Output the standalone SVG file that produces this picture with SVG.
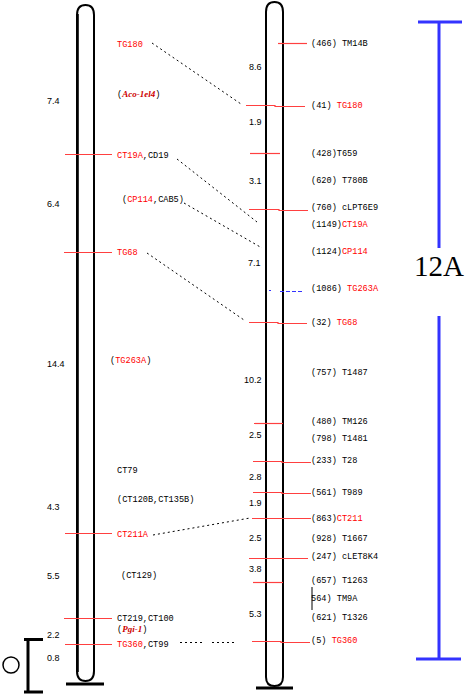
<svg xmlns="http://www.w3.org/2000/svg" width="465" height="694" viewBox="0 0 465 694">
<style>
.lbl{font-family:"Liberation Mono",monospace;font-size:8.6px;fill:#000}
.red{fill:#f00}
.num{font-family:"Liberation Sans",Arial,sans-serif;font-size:9px;fill:#000}
.gene{font-family:"Liberation Serif",serif;font-size:9px;font-style:italic;font-weight:bold;fill:#c00}
.mk{stroke:#ff4040;stroke-width:1.2;fill:none}
.chr{fill:none;stroke:#000;stroke-width:2}
.dash{stroke:#000;stroke-width:1;stroke-dasharray:2,3;fill:none}
.blue{stroke:#3333ff;fill:none}
</style>
<rect width="465" height="694" fill="#fff"/>
<g id="chromosome-left">
<path class="chr" d="M77,15 Q77,5 85.5,5 Q94,5 94,15 V671 Q94,681 85.5,681 Q77,681 77,671 Z" stroke-width="1.6"/>
<line x1="77.5" y1="14" x2="77.5" y2="672" stroke="#000" stroke-width="2.6"/>
<line x1="66" y1="684" x2="104" y2="684" stroke="#000" stroke-width="3"/>
</g>
<g id="chromosome-right">
<path class="chr" d="M266,12 Q266,2 274.5,2 Q283,2 283,12 V677 Q283,686 274.5,686 Q266,686 266,677 Z"/>
<line x1="256" y1="688" x2="293" y2="688" stroke="#000" stroke-width="3"/>
</g>
<g id="left-markers">
<line class="mk" x1="65" y1="154.5" x2="112" y2="154.5"/>
<line class="mk" x1="64" y1="252.5" x2="112" y2="252.5"/>
<line class="mk" x1="65" y1="533.5" x2="112" y2="533.5"/>
<line class="mk" x1="64" y1="618.5" x2="112" y2="618.5"/>
<line class="mk" x1="65" y1="644.5" x2="112" y2="644.5"/>
</g>
<g id="left-labels">
<text class="lbl red" x="117" y="47">TG180</text>
<text class="lbl" x="117" y="97">(<tspan class="gene">Aco-1el4</tspan>)</text>
<text class="num" x="47" y="104">7.4</text>
<text class="lbl" x="117" y="158"><tspan class="red">CT19A</tspan>,CD19</text>
<text class="num" x="47" y="207">6.4</text>
<text class="lbl" x="122" y="202">(<tspan class="red">CP114</tspan>,CAB5)</text>
<text class="lbl red" x="117" y="255">TG68</text>
<text class="lbl" x="110" y="363">(<tspan class="red">TG263A</tspan>)</text>
<text class="num" x="47" y="367">14.4</text>
<text class="lbl" x="117" y="473">CT79</text>
<text class="lbl" x="117" y="502">(CT120B,CT135B)</text>
<text class="num" x="47" y="510">4.3</text>
<text class="lbl red" x="117" y="537">CT211A</text>
<text class="num" x="47" y="579">5.5</text>
<text class="lbl" x="121" y="578">(CT129)</text>
<text class="lbl" x="117" y="621">CT219,CT100</text>
<text class="lbl" x="117" y="632">(<tspan class="gene">Pgi-1</tspan>)</text>
<text class="num" x="47" y="638">2.2</text>
<text class="lbl" x="117" y="647"><tspan class="red">TG360</tspan>,CT99</text>
<text class="num" x="47" y="661">0.8</text>
</g>
<g id="scale-left">
<line x1="28" y1="639" x2="28" y2="692" stroke="#000" stroke-width="3"/>
<line x1="24" y1="639.5" x2="43" y2="639.5" stroke="#000" stroke-width="3"/>
<line x1="24" y1="692" x2="43" y2="692" stroke="#000" stroke-width="3"/>
<circle cx="11" cy="665" r="8" fill="none" stroke="#000" stroke-width="1.5"/>
</g>
<g id="right-markers">
<line class="mk" x1="278" y1="43.5" x2="307" y2="43.5"/>
<polyline class="mk" points="246,105.5 275,105.5 275,106.5 305,106.5"/>
<line class="mk" x1="250" y1="153.5" x2="280" y2="153.5"/>
<polyline class="mk" points="249,209.5 279,209.5 279,210.5 308,210.5"/>
<polyline class="mk" points="249,322.5 278,322.5 278,323.5 307,323.5"/>
<line class="mk" x1="254" y1="423.5" x2="283" y2="423.5"/>
<polyline class="mk" points="253,461.5 282,461.5 282,462.5 311,462.5"/>
<polyline class="mk" points="253,492.5 282,492.5 282,493.5 311,493.5"/>
<line class="mk" x1="252" y1="518.5" x2="311" y2="518.5"/>
<line class="mk" x1="249" y1="558.5" x2="308" y2="558.5"/>
<line class="mk" x1="253" y1="582.5" x2="283" y2="582.5"/>
<polyline class="mk" points="252,641.5 281,641.5 281,642.5 310,642.5"/>
<line x1="312" y1="587" x2="312" y2="610" stroke="#000" stroke-width="1"/>
</g>
<g id="right-labels">
<text class="lbl" x="311" y="46">(466) TM14B</text>
<text class="num" x="249" y="70">8.6</text>
<text class="lbl" x="311" y="108">(41) <tspan class="red">TG180</tspan></text>
<text class="num" x="249" y="125">1.9</text>
<text class="lbl" x="311" y="156">(428)T659</text>
<text class="lbl" x="311" y="183">(620) T780B</text>
<text class="num" x="249" y="184">3.1</text>
<text class="lbl" x="311" y="210">(760) cLPT6E9</text>
<text class="lbl" x="311" y="227">(1149)<tspan class="red">CT19A</tspan></text>
<text class="lbl" x="311" y="254">(1124)<tspan class="red">CP114</tspan></text>
<text class="num" x="248" y="266">7.1</text>
<text class="lbl" x="311" y="291">(1086) <tspan class="red">TG263A</tspan></text>
<text class="lbl" x="311" y="325">(32) <tspan class="red">TG68</tspan></text>
<text class="lbl" x="311" y="375">(757) T1487</text>
<text class="num" x="244" y="383">10.2</text>
<text class="lbl" x="311" y="424">(480) TM126</text>
<text class="num" x="249" y="438">2.5</text>
<text class="lbl" x="311" y="441">(798) T1481</text>
<text class="lbl" x="311" y="463">(233) T28</text>
<text class="num" x="249" y="480">2.8</text>
<text class="lbl" x="311" y="495">(561) T989</text>
<text class="num" x="249" y="506">1.9</text>
<text class="lbl" x="311" y="521">(863)<tspan class="red">CT211</tspan></text>
<text class="num" x="249" y="541">2.5</text>
<text class="lbl" x="311" y="541">(928) T1667</text>
<text class="lbl" x="311" y="559">(247) cLET8K4</text>
<text class="num" x="249" y="572">3.8</text>
<text class="lbl" x="311" y="583">(657) T1263</text>
<text class="lbl" x="311" y="601"> 564) TM9A</text>
<text class="num" x="249" y="617">5.3</text>
<text class="lbl" x="311" y="620">(621) T1326</text>
<text class="lbl" x="311" y="643">(5) <tspan class="red">TG360</tspan></text>
</g>
<g id="connectors">
<line class="dash" x1="152" y1="43" x2="241" y2="104"/>
<line class="dash" x1="177" y1="159" x2="257" y2="222"/>
<line class="dash" x1="184" y1="203" x2="262" y2="248"/>
<line class="dash" x1="147" y1="253" x2="244" y2="320"/>
<line class="dash" x1="153" y1="535" x2="250" y2="518" stroke-dasharray="4,3"/>
<line class="dash" x1="180" y1="642.5" x2="205" y2="642.5" stroke-dasharray="4,2"/>
<line class="dash" x1="212" y1="642.5" x2="236" y2="642.5" stroke-dasharray="4,2"/>
<line x1="280" y1="291.5" x2="304" y2="291.5" stroke="#3333ff" stroke-width="1" stroke-dasharray="4,2"/>
<line x1="269" y1="290.5" x2="271" y2="290.5" stroke="#3333ff" stroke-width="1"/>
</g>
<g id="scale-12A">
<line class="blue" x1="439" y1="22" x2="439" y2="248" stroke-width="3"/>
<line class="blue" x1="439" y1="316" x2="439" y2="658" stroke-width="3"/>
<line class="blue" x1="418" y1="22" x2="462" y2="22" stroke-width="3"/>
<line class="blue" x1="416" y1="659" x2="461" y2="659" stroke-width="3"/>
<text x="439" y="276" text-anchor="middle" font-family="Liberation Serif,serif" font-size="29" fill="#000">12A</text>
</g>
</svg>
